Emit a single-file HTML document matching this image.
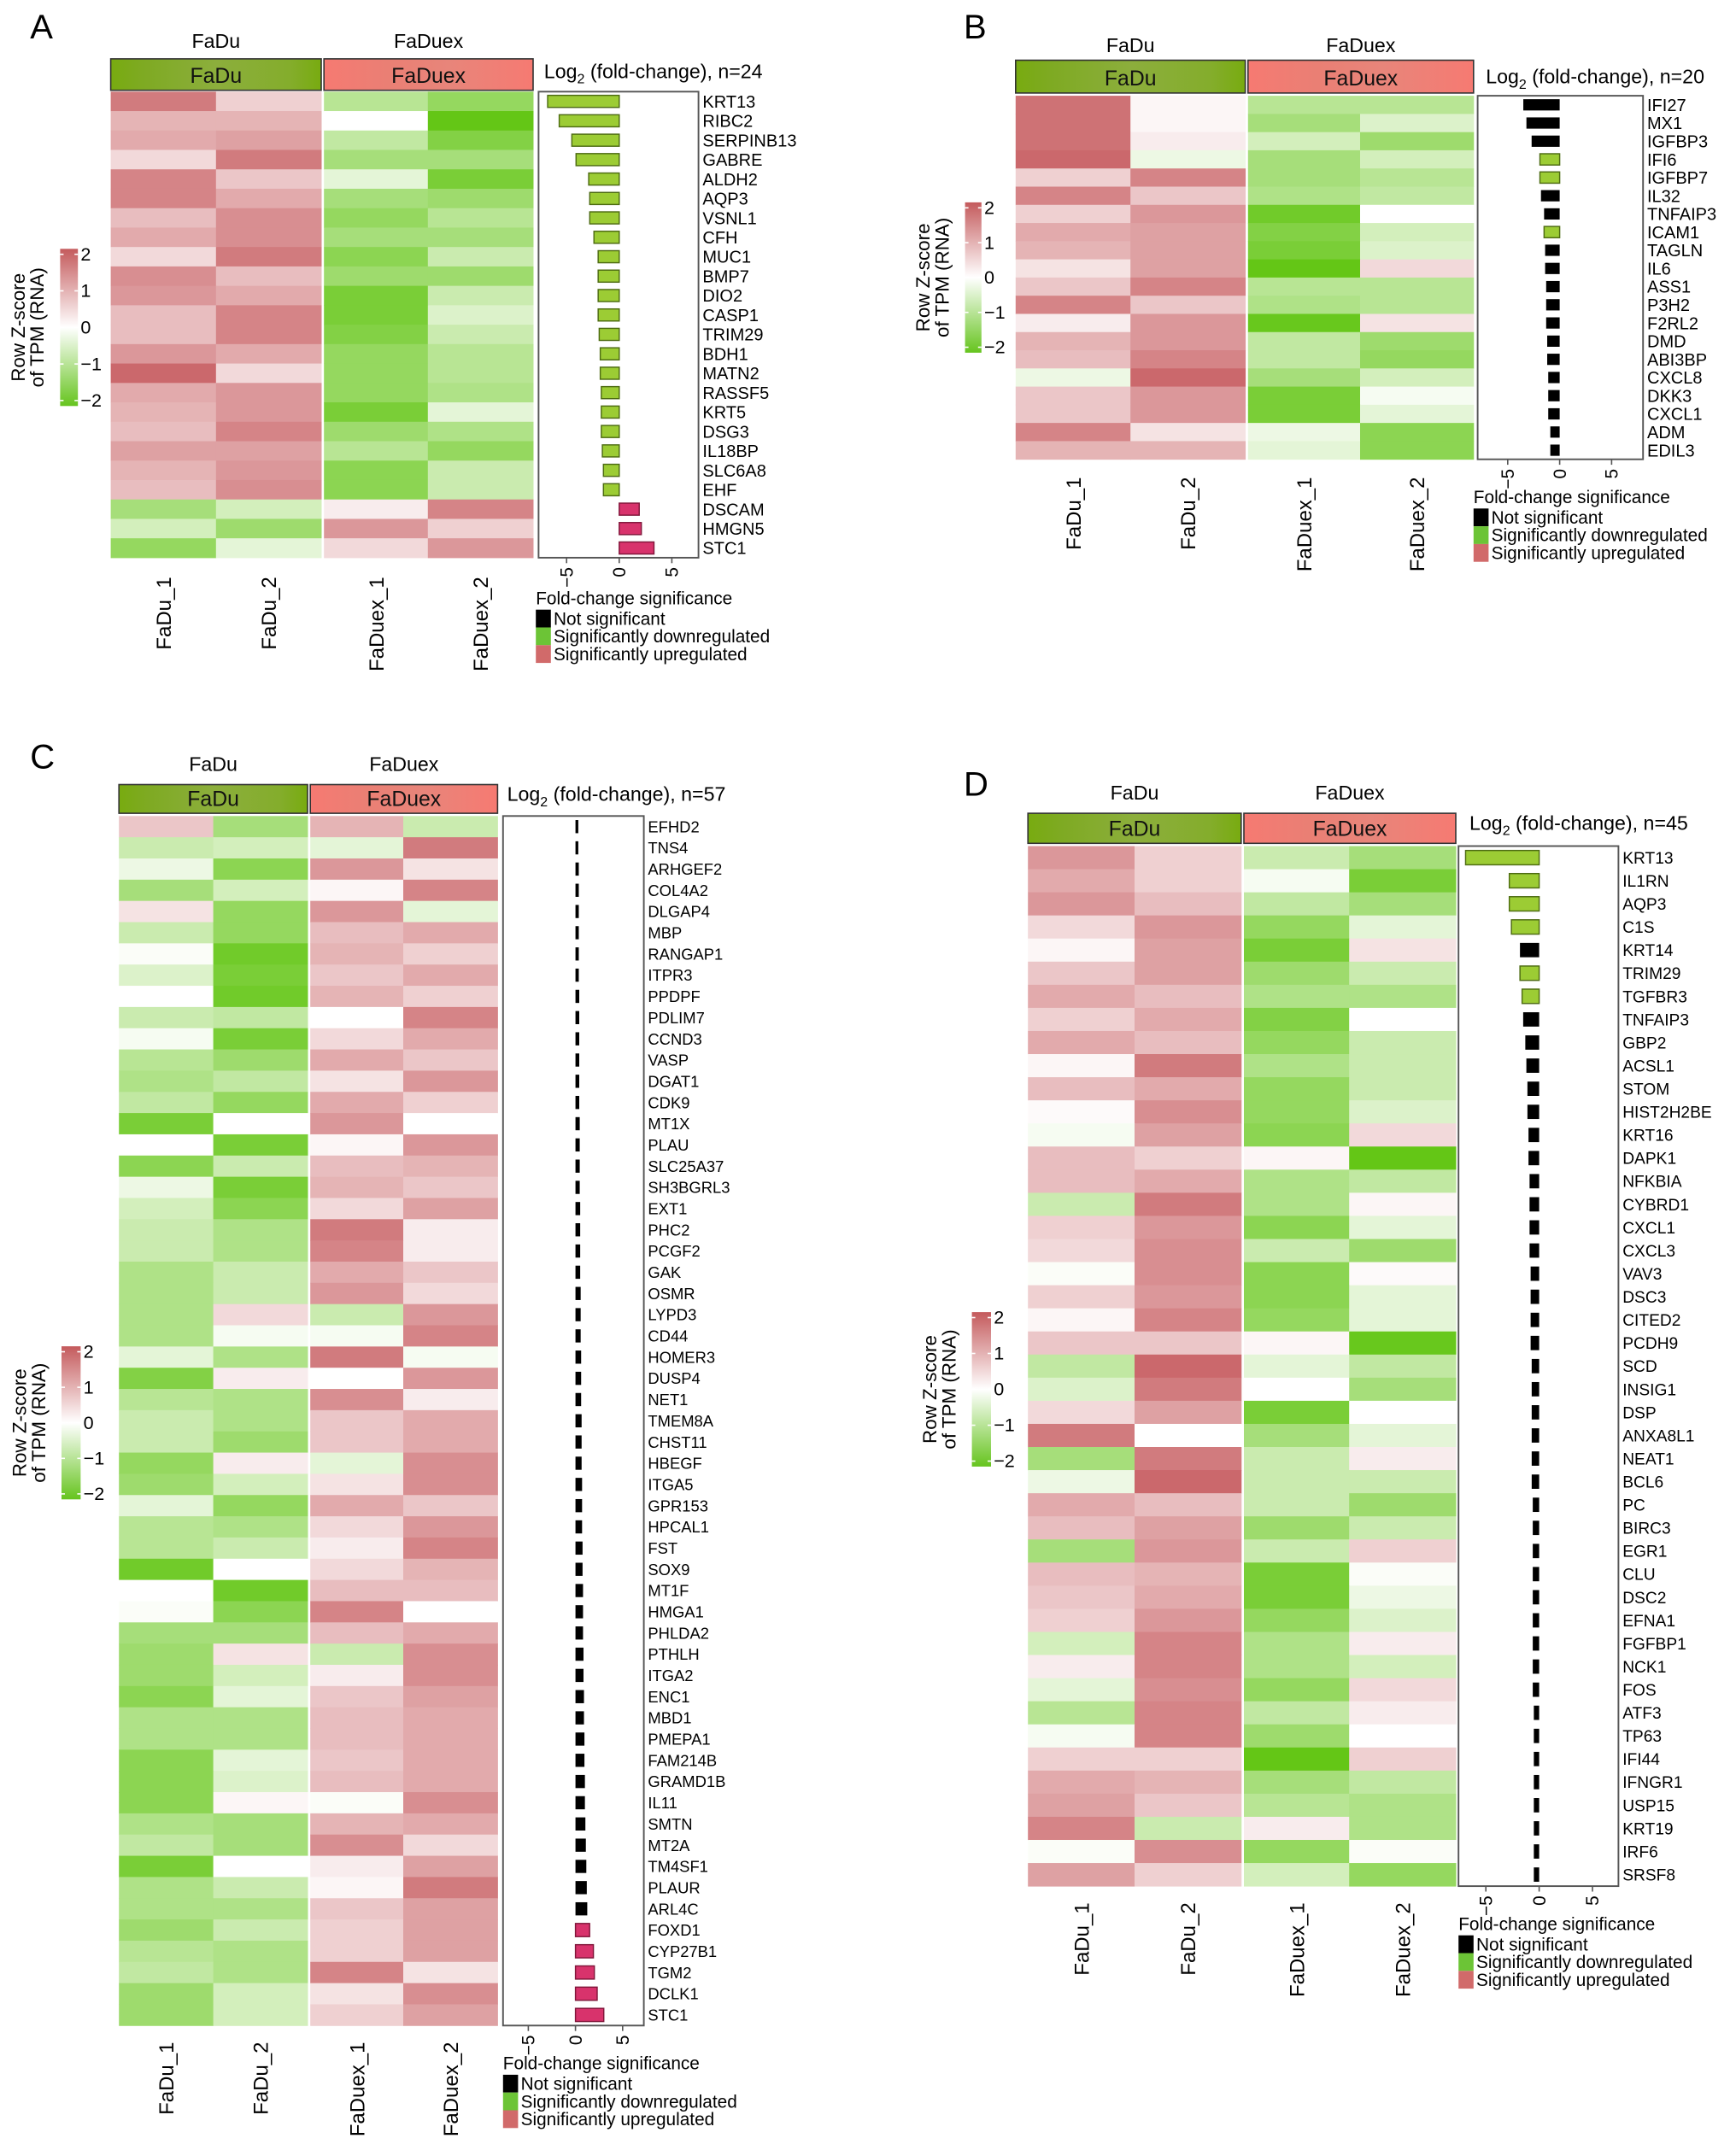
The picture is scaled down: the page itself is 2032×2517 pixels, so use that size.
<!DOCTYPE html>
<html><head><meta charset="utf-8">
<style>
html,body{margin:0;padding:0;background:#fff;}
svg{display:block;font-family:"Liberation Sans",Arial,sans-serif;}
</style></head>
<body>
<svg id="fig" width="2032" height="2517" viewBox="0 0 1270 1573" xmlns="http://www.w3.org/2000/svg">
<defs>
<linearGradient id="cbar" x1="0" y1="0" x2="0" y2="1">
<stop offset="0" stop-color="#c45a5c"/><stop offset="0.5" stop-color="#ffffff"/><stop offset="1" stop-color="#66c41e"/>
</linearGradient>
<linearGradient id="hg" x1="0" y1="0" x2="1" y2="0">
<stop offset="0" stop-color="#78ab10"/><stop offset="0.15" stop-color="#7eaa22"/><stop offset="0.5" stop-color="#8cae3c"/><stop offset="0.85" stop-color="#84ad2c"/><stop offset="1" stop-color="#78ab10"/>
</linearGradient>
<linearGradient id="hr" x1="0" y1="0" x2="1" y2="0">
<stop offset="0" stop-color="#f67a72"/><stop offset="0.3" stop-color="#ea7f74"/><stop offset="0.6" stop-color="#e8857a"/><stop offset="1" stop-color="#f67a72"/>
</linearGradient>
</defs>
</svg>
<script>
// ---------- Panel A data ----------
const genesA = ["KRT13","RIBC2","SERPINB13","GABRE","ALDH2","AQP3","VSNL1","CFH","MUC1","BMP7","DIO2","CASP1","TRIM29","BDH1","MATN2","RASSF5","KRT5","DSG3","IL18BP","SLC6A8","EHF","DSCAM","HMGN5","STC1"];
const zA = [[1.4,0.5,-0.8,-1.2],[0.8,0.8,0.0,-1.8],[0.9,1.0,-0.7,-1.4],[0.4,1.4,-1.0,-1.0],[1.3,0.6,-0.3,-1.5],[1.3,0.9,-1.0,-1.1],[0.7,1.2,-1.2,-0.8],[0.9,1.2,-1.0,-1.0],[0.4,1.4,-1.3,-0.6],[1.2,0.7,-1.1,-1.1],[1.1,0.9,-1.5,-0.6],[0.7,1.3,-1.5,-0.4],[0.7,1.3,-1.4,-0.6],[1.1,0.9,-1.2,-0.8],[1.6,0.4,-1.2,-0.8],[0.9,1.1,-1.2,-0.9],[0.8,1.1,-1.5,-0.3],[0.7,1.3,-1.1,-0.9],[1.0,1.0,-0.8,-1.2],[0.8,1.1,-1.3,-0.6],[0.7,1.2,-1.3,-0.6],[-1.0,-0.5,0.2,1.3],[-0.5,-1.1,1.1,0.5],[-1.2,-0.3,0.4,1.1]];
const fcA = [-6.8,-5.7,-4.5,-4.1,-2.9,-2.8,-2.8,-2.4,-2.0,-2.0,-2.0,-2.0,-1.9,-1.8,-1.8,-1.7,-1.7,-1.7,-1.6,-1.5,-1.5,1.9,2.1,3.3];
const sigA = ["d","d","d","d","d","d","d","d","d","d","d","d","d","d","d","d","d","d","d","d","d","u","u","u"];
// ---------- Panel B data ----------
const genesB = ["IFI27","MX1","IGFBP3","IFI6","IGFBP7","IL32","TNFAIP3","ICAM1","TAGLN","IL6","ASS1","P3H2","F2RL2","DMD","ABI3BP","CXCL8","DKK3","CXCL1","ADM","EDIL3"];
const zB = [[1.5,0.1,-0.8,-0.8],[1.5,0.1,-1.0,-0.4],[1.5,0.2,-0.5,-1.1],[1.6,-0.2,-1.0,-0.5],[0.5,1.3,-1.0,-0.8],[1.3,0.6,-0.9,-0.7],[0.5,1.1,-1.6,0.0],[0.9,1.0,-1.4,-0.5],[0.8,1.0,-1.5,-0.4],[0.3,1.0,-1.8,0.4],[0.6,1.3,-0.8,-0.8],[1.3,0.6,-0.9,-0.8],[0.2,1.1,-1.7,0.3],[0.8,1.1,-0.7,-1.1],[0.7,1.3,-0.7,-1.2],[-0.2,1.6,-1.0,-0.5],[0.6,1.1,-1.5,-0.1],[0.6,1.1,-1.5,-0.3],[1.3,0.3,-0.2,-1.3],[0.8,0.8,-0.3,-1.3]];
const fcB = [-3.5,-3.2,-2.7,-1.9,-1.9,-1.8,-1.5,-1.5,-1.4,-1.4,-1.3,-1.3,-1.3,-1.2,-1.2,-1.1,-1.1,-1.1,-0.9,-0.9];
const sigB = ["n","n","n","d","d","n","n","d","n","n","n","n","n","n","n","n","n","n","n","n"];
// ---------- Panel C data ----------
const genesC = ["EFHD2","TNS4","ARHGEF2","COL4A2","DLGAP4","MBP","RANGAP1","ITPR3","PPDPF","PDLIM7","CCND3","VASP","DGAT1","CDK9","MT1X","PLAU","SLC25A37","SH3BGRL3","EXT1","PHC2","PCGF2","GAK","OSMR","LYPD3","CD44","HOMER3","DUSP4","NET1","TMEM8A","CHST11","HBEGF","ITGA5","GPR153","HPCAL1","FST","SOX9","MT1F","HMGA1","PHLDA2","PTHLH","ITGA2","ENC1","MBD1","PMEPA1","FAM214B","GRAMD1B","IL11","SMTN","MT2A","TM4SF1","PLAUR","ARL4C","FOXD1","CYP27B1","TGM2","DCLK1","STC1"];
const zC = [[0.6,-1.0,0.8,-0.6],[-0.6,-0.5,-0.3,1.4],[-0.2,-1.3,1.1,0.3],[-1.0,-0.5,0.1,1.3],[0.3,-1.2,1.1,-0.3],[-0.6,-1.2,0.7,0.9],[-0.05,-1.6,0.8,0.5],[-0.4,-1.5,0.6,0.9],[0.0,-1.6,0.8,0.5],[-0.6,-0.7,0.0,1.3],[-0.1,-1.5,0.4,0.9],[-0.8,-1.1,0.9,0.6],[-0.9,-0.7,0.3,1.1],[-0.7,-1.2,0.9,0.5],[-1.5,0.0,1.1,0.0],[0.0,-1.5,0.1,1.1],[-1.3,-0.6,0.7,0.8],[-0.2,-1.5,0.8,0.6],[-0.5,-1.3,0.4,1.0],[-0.6,-0.9,1.4,0.2],[-0.6,-0.9,1.3,0.2],[-0.9,-0.6,0.9,0.6],[-0.9,-0.6,1.1,0.4],[-0.9,0.4,-0.6,1.1],[-0.9,-0.1,-0.1,1.3],[-0.3,-0.9,1.4,-0.1],[-1.4,0.2,0.0,1.1],[-0.8,-0.9,1.2,0.2],[-0.6,-0.9,0.6,0.9],[-0.6,-1.1,0.6,0.9],[-1.2,0.2,-0.3,1.2],[-1.1,-0.5,0.3,1.2],[-0.3,-1.2,0.9,0.6],[-0.8,-0.9,0.4,1.1],[-0.8,-0.6,0.2,1.3],[-1.6,0.0,0.4,0.8],[0.0,-1.6,0.7,0.7],[-0.05,-1.3,1.3,0.0],[-1.0,-1.0,0.7,0.9],[-1.1,0.3,-0.6,1.2],[-1.1,-0.5,0.2,1.2],[-1.3,-0.3,0.6,1.0],[-0.9,-0.9,0.7,0.9],[-0.9,-0.9,0.7,0.9],[-1.3,-0.3,0.6,0.9],[-1.3,-0.4,0.7,0.9],[-1.3,0.1,-0.05,1.2],[-0.9,-1.0,0.8,0.9],[-0.7,-1.0,1.2,0.4],[-1.5,0.0,0.2,1.0],[-0.9,-0.6,0.1,1.4],[-0.9,-0.9,0.6,1.0],[-1.1,-0.6,0.5,1.0],[-0.8,-0.9,0.5,1.0],[-0.7,-0.9,1.3,0.3],[-1.1,-0.5,0.3,1.2],[-1.1,-0.5,0.5,1.0]];
const fcC = [0.3,0.3,0.35,0.35,0.35,0.35,0.35,0.35,0.4,0.4,0.4,0.4,0.4,0.4,0.45,0.45,0.45,0.45,0.5,0.5,0.5,0.5,0.55,0.55,0.55,0.6,0.6,0.6,0.65,0.65,0.65,0.7,0.7,0.7,0.75,0.75,0.8,0.8,0.8,0.85,0.85,0.9,0.9,0.95,0.95,1.0,1.0,1.05,1.1,1.15,1.2,1.25,1.5,1.9,2.0,2.3,3.0];
const sigC = ["n","n","n","n","n","n","n","n","n","n","n","n","n","n","n","n","n","n","n","n","n","n","n","n","n","n","n","n","n","n","n","n","n","n","n","n","n","n","n","n","n","n","n","n","n","n","n","n","n","n","n","n","u","u","u","u","u"];
// ---------- Panel D data ----------
const genesD = ["KRT13","IL1RN","AQP3","C1S","KRT14","TRIM29","TGFBR3","TNFAIP3","GBP2","ACSL1","STOM","HIST2H2BE","KRT16","DAPK1","NFKBIA","CYBRD1","CXCL1","CXCL3","VAV3","DSC3","CITED2","PCDH9","SCD","INSIG1","DSP","ANXA8L1","NEAT1","BCL6","PC","BIRC3","EGR1","CLU","DSC2","EFNA1","FGFBP1","NCK1","FOS","ATF3","TP63","IFI44","IFNGR1","USP15","KRT19","IRF6","SRSF8"];
const zD = [[1.1,0.5,-0.6,-1.0],[0.9,0.5,-0.1,-1.5],[1.1,0.7,-0.7,-1.0],[0.4,1.1,-1.2,-0.3],[0.1,1.0,-1.5,0.3],[0.6,1.0,-1.1,-0.6],[0.9,0.7,-0.9,-0.9],[0.5,0.9,-1.4,0.0],[0.9,0.7,-1.2,-0.6],[0.1,1.4,-0.9,-0.6],[0.7,0.9,-1.2,-0.6],[0.05,1.2,-1.2,-0.4],[-0.1,1.0,-1.3,0.4],[0.7,0.5,0.1,-1.8],[0.7,0.9,-0.9,-0.7],[-0.6,1.4,-0.9,0.1],[0.5,1.1,-1.3,-0.3],[0.4,1.2,-0.6,-1.1],[-0.05,1.2,-1.3,0.05],[0.5,1.1,-1.3,-0.3],[0.1,1.3,-1.2,-0.3],[0.6,0.6,0.1,-1.7],[-0.7,1.6,-0.3,-0.7],[-0.4,1.4,0.0,-1.0],[0.4,1.0,-1.5,0.0],[1.4,0.0,-1.0,-0.3],[-1.0,1.4,-0.6,0.2],[-0.2,1.6,-0.6,-0.6],[0.9,0.7,-0.6,-1.1],[0.7,1.0,-1.1,-0.6],[-1.0,1.1,-0.6,0.5],[0.7,0.8,-1.5,-0.05],[0.6,0.9,-1.5,-0.2],[0.5,1.1,-1.2,-0.4],[-0.5,1.3,-0.9,0.2],[0.2,1.3,-0.9,-0.5],[-0.3,1.2,-1.2,0.4],[-0.8,1.3,-0.7,0.2],[-0.1,1.3,-1.1,0.0],[0.5,0.5,-1.8,0.5],[0.9,0.8,-1.0,-0.7],[1.0,0.6,-0.8,-0.9],[1.3,-0.6,0.2,-0.9],[-0.05,1.2,-1.2,-0.05],[1.0,0.5,-0.5,-1.2]];
const fcD = [-6.9,-2.8,-2.8,-2.6,-1.8,-1.8,-1.6,-1.5,-1.3,-1.2,-1.1,-1.1,-1.0,-1.0,-0.9,-0.9,-0.9,-0.9,-0.8,-0.8,-0.8,-0.8,-0.7,-0.7,-0.7,-0.7,-0.7,-0.7,-0.6,-0.6,-0.6,-0.6,-0.6,-0.6,-0.6,-0.6,-0.6,-0.5,-0.5,-0.5,-0.5,-0.5,-0.5,-0.5,-0.5];
const sigD = ["d","d","d","d","n","d","d","n","n","n","n","n","n","n","n","n","n","n","n","n","n","n","n","n","n","n","n","n","n","n","n","n","n","n","n","n","n","n","n","n","n","n","n","n","n"];
const sampleLabels = ["FaDu_1","FaDu_2","FaDuex_1","FaDuex_2"];
const fcTicks = [-5,0,5];
const cbarTicks = [2,1,0,-1,-2];

const NS = "http://www.w3.org/2000/svg";
const svg = document.getElementById("fig");
function mk(tag, attrs, parent, text){
  const e = document.createElementNS(NS, tag);
  for (const k in attrs) e.setAttribute(k, attrs[k]);
  if (text !== undefined) e.textContent = text;
  (parent || svg).appendChild(e);
  return e;
}
function lerp(a,b,t){return Math.round(a+(b-a)*t);}
function zColor(v){
  const t = Math.max(-1, Math.min(1, v/1.75));
  const W=[255,255,255], R=[198,90,94], G=[100,198,22];
  const E = t>=0 ? R : G, a = Math.abs(t);
  return "rgb("+lerp(W[0],E[0],a)+","+lerp(W[1],E[1],a)+","+lerp(W[2],E[2],a)+")";
}
const FILL = {d:"#9ccc34", u:"#d8336c", n:"#000000"};
const STROKE = {d:"#4d6b12", u:"#80163a", n:"#000000"};

function panel(L, genes, z, fc, sig, letter){
  const g = mk("g", {});
  
  
  const t = mk("text", {x:L.letter[0], y:L.letter[1], "font-size":25}, g, letter);
  
  
  const cols = L.cols, nR = genes.length, rh = (L.bottom-L.top)/nR;
  const yOf = i => L.top + i*rh;
  const grpNames = ["FaDu","FaDuex"];
  for (let k=0;k<2;k++){
    const x0 = cols[k*2+ (k?1:0)], x1 = cols[k*2+2+(k?1:0)];
    const gl = mk("text", {x:(x0+x1)/2, y:L.grpY, "font-size":14.5, "text-anchor":"middle"}, g, grpNames[k]);
    
    
    const hb = mk("rect", {x:x0, y:L.hdr[0], width:x1-x0, height:L.hdr[1]-L.hdr[0], fill:k?"url(#hr)":"url(#hg)", stroke:"#333", "stroke-width":1}, g);
    
    
    const ht = mk("text", {x:(x0+x1)/2, y:L.hdr[1]-5.5, "font-size":15.5, "text-anchor":"middle", fill:"#111"}, g, grpNames[k]);
    
    
  }
  const colX = [[cols[0],cols[1]],[cols[1],cols[2]],[cols[3],cols[4]],[cols[4],cols[5]]];
  for (let i=0;i<nR;i++){
    for (let j=0;j<4;j++){
      const c = mk("rect", {x:colX[j][0], y:yOf(i), width:colX[j][1]-colX[j][0]+0.3, height:rh+0.3, fill:zColor(z[i][j])}, g);
      
      
    }
  }
  for (let j=0;j<4;j++){
    const cx = (colX[j][0]+colX[j][1])/2 + 5.5;
    const sl = mk("text", {x:cx, y:L.colLabY, "font-size":15, "text-anchor":"end", transform:"rotate(-90 "+cx+" "+L.colLabY+")"}, g, sampleLabels[j]);
    
    
  }
  const xs = v => L.zero + v*L.ppu;
  const box = mk("rect", {x:L.box[0], y:L.top, width:L.box[1]-L.box[0], height:L.bottom-L.top, fill:"#fff", stroke:"#555", "stroke-width":1.2}, g);
  
  
  const bh = rh*0.62;
  for (let i=0;i<nR;i++){
    const v = fc[i], x0 = Math.min(xs(0), xs(v)), w = Math.abs(xs(v)-xs(0));
    const b = mk("rect", {x:x0, y:yOf(i)+(rh-bh)/2, width:w, height:bh, fill:FILL[sig[i]], stroke:STROKE[sig[i]], "stroke-width":sig[i]==="n"?0:0.9}, g);
    
    
    const gt = mk("text", {x:L.box[1]+3, y:yOf(i)+rh/2+L.gfs*0.36, "font-size":L.gfs}, g, genes[i]);
    
    
  }
  for (const tv of fcTicks){
    const x = xs(tv);
    const tk = mk("line", {x1:x, x2:x, y1:L.bottom, y2:L.bottom+4, stroke:"#555", "stroke-width":1}, g);
    
    
    const tx = x+4.5, ty = L.bottom+7;
    const tl = mk("text", {x:tx, y:ty, "font-size":13, "text-anchor":"end", transform:"rotate(-90 "+tx+" "+ty+")"}, g, tv<0?"\u2212"+Math.abs(tv):String(tv));
    
    
  }
  const title = mk("text", {x:L.title[0], y:L.title[1], "font-size":14.5}, g);
  
  
  mk("tspan", {}, title, "Log");
  mk("tspan", {"font-size":10, dy:4}, title, "2");
  mk("tspan", {dy:-4}, title, " (fold-change), n="+nR);
  const cb = L.cbar;
  const cr = mk("rect", {x:cb[0], y:cb[1], width:cb[2], height:cb[3]-cb[1], fill:"url(#cbar)"}, g);
  
  
  for (const tv of cbarTicks){
    const y = cb[1]+4 + (2-tv)/4*(cb[3]-cb[1]-8);
    mk("line", {x1:cb[0], x2:cb[0]+2.5, y1:y, y2:y, stroke:"#fff", "stroke-width":1}, g);
    mk("line", {x1:cb[0]+cb[2]-2.5, x2:cb[0]+cb[2], y1:y, y2:y, stroke:"#fff", "stroke-width":1}, g);
    const cl = mk("text", {x:cb[0]+cb[2]+2, y:y+4.5, "font-size":13.5}, g, tv<0?"\u2212"+Math.abs(tv):String(tv));
    
    
  }
  const cy = (cb[1]+cb[3])/2;
  const z1 = mk("text", {x:cb[0]-26, y:cy, "font-size":14, "text-anchor":"middle", transform:"rotate(-90 "+(cb[0]-26)+" "+cy+")"}, g, "Row Z-score");
  
  
  const z2 = mk("text", {x:cb[0]-12, y:cy, "font-size":14, "text-anchor":"middle", transform:"rotate(-90 "+(cb[0]-12)+" "+cy+")"}, g, "of TPM (RNA)");
  
  
  const lg = L.legend;
  const lt = mk("text", {x:lg[0], y:lg[1], "font-size":13}, g, "Fold-change significance");
  
  
  const items = [["#000","Not significant"],["#6cc436","Significantly downregulated"],["#d16a6a","Significantly upregulated"]];
  items.forEach((it,k)=>{
    const y = lg[1]+4+k*13;
    const sq = mk("rect", {x:lg[0], y:y, width:11, height:13, fill:it[0]}, g);
    
    
    const tx = mk("text", {x:lg[0]+13, y:y+11, "font-size":13}, g, it[1]);
    
    
  });
}

panel({letter:[22,28], cols:[81,158,235,237,313,390], top:67, bottom:408, hdr:[43,66], grpY:35,
  box:[394,511], zero:453, ppu:7.7, gfs:12.5, title:[398,57], colLabY:422,
  cbar:[44,182,13,297], legend:[392,442]}, genesA, zA, fcA, sigA, "A");
panel({letter:[705,28], cols:[743,827,911,913,995,1078], top:70, bottom:336, hdr:[44,68], grpY:38,
  box:[1081,1202], zero:1141, ppu:7.6, gfs:12.5, title:[1087,61], colLabY:349,
  cbar:[706,148,12,258], legend:[1078,368]}, genesB, zB, fcB, sigB, "B");
panel({letter:[22,562], cols:[87,156,225,227,295,364], top:597, bottom:1482, hdr:[574,595], grpY:564,
  box:[368,471], zero:421, ppu:6.9, gfs:11.5, title:[371,586], colLabY:1494,
  cbar:[45,985,14,1097], legend:[368,1514]}, genesC, zC, fcC, sigC, "C");
panel({letter:[705,582], cols:[752,830,908,910,987,1065], top:619, bottom:1380, hdr:[595,617], grpY:585,
  box:[1067,1184], zero:1126, ppu:7.8, gfs:12, title:[1075,607], colLabY:1392,
  cbar:[711,960,14,1073], legend:[1067,1412]}, genesD, zD, fcD, sigD, "D");
</script>
</body></html>
